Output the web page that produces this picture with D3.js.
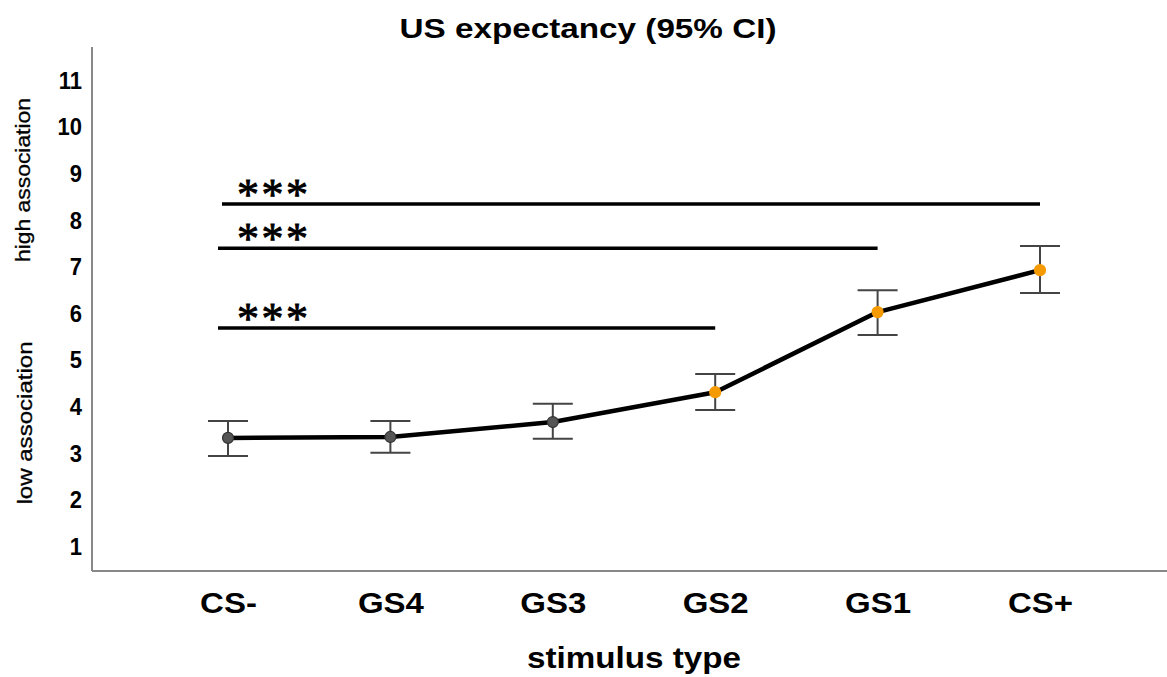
<!DOCTYPE html>
<html>
<head>
<meta charset="utf-8">
<script src="https://cdn.jsdelivr.net/npm/d3@7"></script>
<style>
  html, body { margin: 0; padding: 0; background: #fff; }
  svg { display: block; font-family: "Liberation Sans", Arial, sans-serif; }
</style>
</head>
<body>
<svg id="chart" width="1167" height="677"></svg>
<script>
// Stimulus categories along the generalization gradient
const categories = ["CS-", "GS4", "GS3", "GS2", "GS1", "CS+"];
// Mean US expectancy ratings
const means = [3.32, 3.34, 3.66, 4.30, 6.02, 6.92];
// 95% confidence interval bounds
const ciLow  = [2.93, 3.00, 3.30, 3.92, 5.53, 6.43];
const ciHigh = [3.68, 3.68, 4.05, 4.69, 6.49, 7.44];
// Point colours: safe-side stimuli vs. threat-side stimuli
const pointGroup = ["low", "low", "low", "high", "high", "high"];
// Y tick labels
const yTicks = [1, 2, 3, 4, 5, 6, 7, 8, 9, 10, 11];
// Significance brackets: from category, to category, level
const sigFrom  = ["CS-", "CS-", "CS-"];
const sigTo    = ["CS+", "GS1", "GS2"];
const sigLevel = [8.34, 7.39, 5.68];
const sigLabel = ["***", "***", "***"];

const svg = d3.select("#chart");
const W = 1167, H = 677;
const axisLeft = 92, axisBottom = 571, axisTop = 47;

const x = d3.scalePoint().domain(categories).range([228, 1040]);
const y = d3.scaleLinear().domain([1, 11]).range([546, 80]);

// Title
svg.append("text")
  .attr("x", 588).attr("y", 38)
  .attr("text-anchor", "middle")
  .attr("font-size", 28).attr("font-weight", "bold")
  .attr("textLength", 377).attr("lengthAdjust", "spacingAndGlyphs")
  .text("US expectancy (95% CI)");

// Axis frame lines (left and bottom)
svg.append("line")
  .attr("x1", axisLeft).attr("x2", axisLeft)
  .attr("y1", axisTop).attr("y2", axisBottom)
  .attr("stroke", "#888").attr("stroke-width", 2);
svg.append("line")
  .attr("x1", axisLeft).attr("x2", W)
  .attr("y1", axisBottom).attr("y2", axisBottom)
  .attr("stroke", "#888").attr("stroke-width", 2);

// Y axis tick labels (no tick marks)
const yAxis = d3.axisLeft(y).tickValues(yTicks).tickSize(0).tickPadding(0);
const gy = svg.append("g").attr("transform", `translate(${axisLeft - 10},0)`).call(yAxis);
gy.select(".domain").remove();
gy.selectAll("text")
  .attr("font-size", 22).attr("font-weight", "bold")
  .attr("font-family", "Liberation Sans, Arial, sans-serif")
  .attr("fill", "#000")
  .attr("dy", "0.34em")
  .attr("transform", "scale(1,1.1)");

// X axis tick labels
const xAxis = d3.axisBottom(x).tickSize(0).tickPadding(0);
const gx = svg.append("g").attr("transform", `translate(0,${axisBottom})`).call(xAxis);
gx.select(".domain").remove();
gx.selectAll("text")
  .attr("font-size", 30).attr("font-weight", "bold")
  .attr("font-family", "Liberation Sans, Arial, sans-serif")
  .attr("fill", "#000")
  .attr("y", 42).attr("dy", null)
  .attr("transform", "scale(1.1,1)");

// X axis title
svg.append("text")
  .attr("x", 634).attr("y", 668)
  .attr("text-anchor", "middle")
  .attr("font-size", 30).attr("font-weight", "bold")
  .attr("textLength", 214).attr("lengthAdjust", "spacingAndGlyphs")
  .text("stimulus type");

// Rotated y-axis annotations
svg.append("text")
  .attr("transform", "translate(30,180) rotate(-90)")
  .attr("text-anchor", "middle")
  .attr("font-size", 21)
  .attr("stroke", "#000").attr("stroke-width", 0.3)
  .attr("textLength", 164).attr("lengthAdjust", "spacingAndGlyphs")
  .text("high association");
svg.append("text")
  .attr("transform", "translate(32,423) rotate(-90)")
  .attr("text-anchor", "middle")
  .attr("font-size", 21)
  .attr("stroke", "#000").attr("stroke-width", 0.3)
  .attr("textLength", 163).attr("lengthAdjust", "spacingAndGlyphs")
  .text("low association");

// Significance brackets with asterisks
const sig = sigFrom.map((f, i) => ({ from: f, to: sigTo[i], level: sigLevel[i], label: sigLabel[i] }));
svg.selectAll(".sig-line").data(sig).join("line")
  .attr("class", "sig-line")
  .attr("x1", (d, i) => x(d.from) - (i === 0 ? 6 : 10))
  .attr("x2", d => x(d.to))
  .attr("y1", d => y(d.level)).attr("y2", d => y(d.level))
  .attr("stroke", "#000").attr("stroke-width", 3.5);
svg.selectAll(".sig-text").data(sig).join("text")
  .attr("class", "sig-text")
  .attr("x", d => x(d.from) + 9)
  .attr("y", d => y(d.level) + 5)
  .attr("font-family", "Liberation Serif, serif")
  .attr("font-size", 44)
  .attr("letter-spacing", 2.5)
  .attr("stroke", "#000").attr("stroke-width", 0.9)
  .text(d => d.label);

// Mean line
const line = d3.line().x((d, i) => x(categories[i])).y(d => y(d));
svg.append("path")
  .datum(means)
  .attr("d", line)
  .attr("fill", "none")
  .attr("stroke", "#000").attr("stroke-width", 4.5)
  .attr("stroke-linejoin", "round");

// Error bars (95% CI)
const eb = svg.append("g").attr("stroke", "#444").attr("stroke-width", 2);
categories.forEach((c, i) => {
  const cx = x(c);
  eb.append("line").attr("x1", cx).attr("x2", cx).attr("y1", y(ciLow[i])).attr("y2", y(ciHigh[i]));
  eb.append("line").attr("x1", cx - 20).attr("x2", cx + 20).attr("y1", y(ciLow[i])).attr("y2", y(ciLow[i]));
  eb.append("line").attr("x1", cx - 20).attr("x2", cx + 20).attr("y1", y(ciHigh[i])).attr("y2", y(ciHigh[i]));
});

// Mean points
svg.selectAll(".pt").data(means).join("circle")
  .attr("class", "pt")
  .attr("cx", (d, i) => x(categories[i]))
  .attr("cy", d => y(d))
  .attr("r", 5.5)
  .attr("fill", (d, i) => pointGroup[i] === "high" ? "#f59a00" : "#555")
  .attr("stroke", (d, i) => pointGroup[i] === "high" ? "#f59a00" : "#333")
  .attr("stroke-width", 1.2);
</script>
</body>
</html>
